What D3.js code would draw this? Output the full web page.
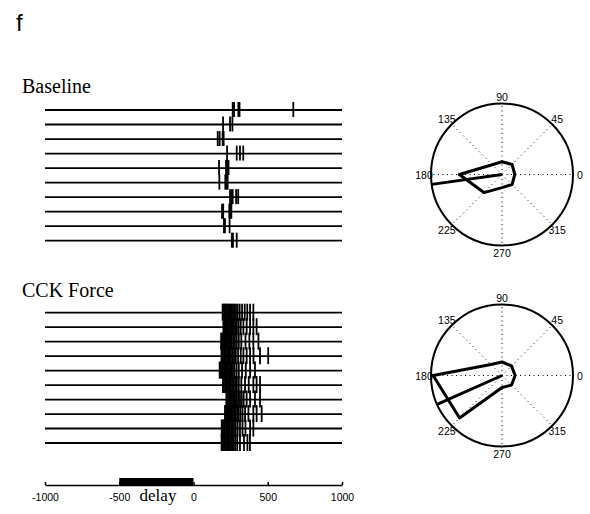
<!DOCTYPE html>
<html>
<head>
<meta charset="utf-8">
<script src="https://cdn.jsdelivr.net/npm/d3@7"></script>
<style>
  body { margin: 0; background: #fff; }
  .num { font-family: "Liberation Sans", Arial, sans-serif; font-size: 10.5px; }
  .serif { font-family: "Liberation Serif", "Times New Roman", serif; }
</style>
</head>
<body>
<svg id="chart"></svg>
<script>
// time axis (ms) and the delay period
const timeTicks = [-1000, -500, 0, 500, 1000];
const delayWindow = [-500, 0];

// spike times (ms) per trial
const baselineTrials = [
  [264, 273, 302, 310, 672],
  [199, 246, 262],
  [163, 176, 196, 203],
  [226, 291, 313, 335],
  [172, 219, 228, 236],
  [174, 214, 222, 230],
  [246, 255, 264, 287, 301],
  [192, 200, 241, 250, 255],
  [205, 212, 243],
  [258, 266, 291],
];
const cckTrials = [
  [196, 203, 211, 218, 226, 233, 241, 249, 258, 266, 275, 286, 297, 311, 327, 345, 362, 381, 403],
  [201, 208, 216, 223, 231, 238, 246, 255, 263, 272, 281, 292, 304, 318, 336, 358, 381, 403, 425],
  [186, 194, 201, 209, 216, 224, 232, 240, 249, 258, 268, 279, 291, 305, 322, 350, 376, 403, 437],
  [188, 195, 203, 210, 218, 226, 234, 243, 252, 262, 273, 285, 300, 318, 336, 358, 381, 404, 448, 503],
  [176, 183, 190, 197, 204, 211, 218, 225, 232, 240, 248, 257, 266, 276, 290, 305, 327, 352, 381, 414],
  [198, 205, 213, 220, 228, 236, 244, 252, 261, 270, 280, 292, 305, 322, 347, 372, 403, 425, 448],
  [221, 228, 236, 243, 251, 258, 266, 274, 283, 292, 302, 313, 325, 338, 358, 381, 414, 448],
  [212, 219, 227, 234, 242, 250, 258, 266, 275, 284, 294, 304, 316, 330, 347, 370, 403, 425, 459],
  [190, 197, 205, 212, 220, 228, 236, 245, 254, 263, 273, 284, 297, 313, 330, 350, 381, 403],
  [189, 196, 204, 211, 219, 227, 235, 244, 253, 262, 272, 283, 295, 313, 340, 363, 380],
];

// directional tuning (8 directions, deg) and mean vector [dir, length]
const directions = [0, 45, 90, 135, 180, 225, 270, 315];
const baselineTuning = [1.8, 2.0, 1.8, 1.95, 6.0, 3.6, 1.85, 2.0];
const cckTuning = [1.85, 1.9, 1.9, 2.2, 9.7, 8.45, 1.7, 1.9];
const baselineMean = [188, 10];
const cckMean = [204, 10];

const width = 590;
const height = 514;

const svg = d3.select("#chart")
  .attr("width", width)
  .attr("height", height);

const x = d3.scaleLinear().domain([-1000, 1000]).range([45, 342]);

const drawRaster = (trials, top, bottom, up, down) => {
  const y = d3.scalePoint().domain(d3.range(trials.length)).range([top, bottom]);
  const g = svg.append("g");

  g.selectAll("line.trial")
    .data(trials)
    .join("line")
    .attr("class", "trial")
    .attr("x1", x(-1000))
    .attr("x2", x(1000))
    .attr("y1", (d, i) => y(i))
    .attr("y2", (d, i) => y(i))
    .attr("stroke", "#000")
    .attr("stroke-width", 1.8);

  const spikes = trials.flatMap((t, i) => t.map((s) => ({ t: s, i })));
  g.selectAll("line.spike")
    .data(spikes)
    .join("line")
    .attr("class", "spike")
    .attr("x1", (d) => x(d.t))
    .attr("x2", (d) => x(d.t))
    .attr("y1", (d) => y(d.i) - up)
    .attr("y2", (d) => y(d.i) + down)
    .attr("stroke", "#000")
    .attr("stroke-width", 1.8);
};

drawRaster(baselineTrials, 110, 240.7, 8, 7);
drawRaster(cckTrials, 312.7, 443, 9, 8);

// time axis with delay bar
const axisG = svg.append("g")
  .attr("transform", `translate(0,${485})`);

axisG.append("rect")
  .attr("x", x(delayWindow[0]))
  .attr("width", x(delayWindow[1]) - x(delayWindow[0]))
  .attr("y", -7)
  .attr("height", 7)
  .attr("fill", "#000");

axisG.call(
  d3.axisBottom(x)
    .tickValues(timeTicks)
    .tickFormat((d) => String(d))
    .tickSizeInner(-3)
    .tickSizeOuter(0)
    .tickPadding(8.5)
);
axisG.attr("font-family", null).attr("font-size", null);
axisG.selectAll("path, line").attr("stroke", "#000").attr("stroke-width", 1.5);
axisG.selectAll("text").attr("class", "num").attr("fill", "#000");

svg.append("text")
  .attr("class", "serif")
  .attr("x", 158)
  .attr("y", 501)
  .attr("text-anchor", "middle")
  .attr("font-size", 17)
  .text("delay");

// polar plots
const drawPolar = (cx, cy, values, mean) => {
  const R = 71;
  const r = d3.scaleLinear().domain([0, 10]).range([0, R]);
  const g = svg.append("g").attr("transform", `translate(${cx},${cy})`);
  const rad = (deg) => (deg * Math.PI) / 180;

  g.selectAll("line.spoke")
    .data(directions)
    .join("line")
    .attr("class", "spoke")
    .attr("x1", 0)
    .attr("y1", 0)
    .attr("x2", (d) => R * Math.cos(rad(d)))
    .attr("y2", (d) => -R * Math.sin(rad(d)))
    .attr("stroke", "#000")
    .attr("stroke-width", 1)
    .attr("stroke-dasharray", "1,3.5");

  g.append("circle")
    .attr("r", R)
    .attr("fill", "none")
    .attr("stroke", "#000")
    .attr("stroke-width", 2);

  g.selectAll("text")
    .data(directions)
    .join("text")
    .attr("class", "num")
    .attr("x", (d) => 78 * Math.cos(rad(d)))
    .attr("y", (d) => -78 * Math.sin(rad(d)))
    .attr("text-anchor", "middle")
    .attr("dominant-baseline", "central")
    .text((d) => d);

  const radial = d3.lineRadial()
    .angle((d) => rad(90 - d[0]))
    .radius((d) => r(d[1]))
    .curve(d3.curveLinearClosed);

  g.append("path")
    .attr("d", radial(d3.zip(directions, values)))
    .attr("fill", "none")
    .attr("stroke", "#000")
    .attr("stroke-width", 3)
    .attr("stroke-linejoin", "round");

  g.append("line")
    .attr("x1", 0)
    .attr("y1", 0)
    .attr("x2", r(mean[1]) * Math.cos(rad(mean[0])))
    .attr("y2", -r(mean[1]) * Math.sin(rad(mean[0])))
    .attr("stroke", "#000")
    .attr("stroke-width", 3);
};

drawPolar(502, 174.5, baselineTuning, baselineMean);
drawPolar(502, 375.5, cckTuning, cckMean);

// panel labels
svg.append("text")
  .attr("x", 16)
  .attr("y", 31)
  .attr("font-family", "Liberation Sans, Arial, sans-serif")
  .attr("font-size", 24)
  .text("f");

svg.append("text")
  .attr("class", "serif")
  .attr("x", 22)
  .attr("y", 93)
  .attr("font-size", 20)
  .text("Baseline");

svg.append("text")
  .attr("class", "serif")
  .attr("x", 22)
  .attr("y", 297)
  .attr("font-size", 20)
  .text("CCK Force");
</script>
</body>
</html>
